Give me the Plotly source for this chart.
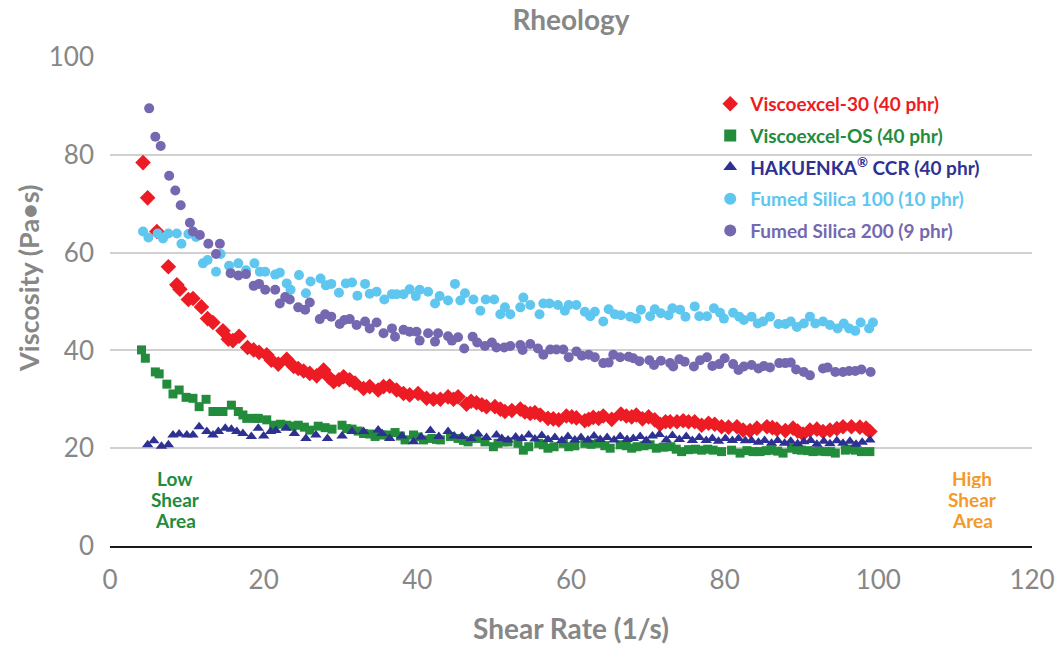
import plotly.graph_objects as go

# ---------------- data ----------------
red_x = [4.3, 4.9, 6.1, 7.6, 8.7, 9.1, 10.2, 10.8, 11.9, 12.7, 13.4, 14.7, 15.4, 16.0, 16.8, 17.9, 18.7, 19.4,
         20.4, 21.0, 21.9, 23.0, 23.9, 24.5, 25.2, 26.0, 26.9, 27.8, 28.5, 29.1, 29.8, 30.4, 31.2, 31.9, 33.0,
         33.8, 34.9, 35.6, 36.4, 37.3, 38.2, 39.0, 40.1, 41.2, 42.1, 43.0, 44.0, 44.7, 45.3, 46.4, 47.0, 47.7,
         48.4, 49.0, 50.1, 50.8, 51.4, 52.3, 53.4, 54.0, 54.7, 55.3, 56.0, 57.0, 57.7, 58.4, 59.4, 60.1, 60.7,
         61.8, 62.3, 62.9, 63.6, 64.2, 65.3, 66.5, 67.2, 67.9, 68.5, 69.3, 70.1, 70.9, 71.6, 72.3, 72.9, 73.8,
         74.6, 75.3, 76.1, 77.0, 77.9, 78.7, 79.6, 80.5, 81.6, 82.4, 83.3, 84.2, 85.5, 86.2, 86.8, 87.9, 88.9,
         89.5, 90.2, 91.1, 92.0, 92.8, 93.7, 94.6, 95.4, 96.5, 97.6, 98.4, 98.9]
red_y = [78.4, 71.2, 64.3, 57.1, 53.4, 52.5, 50.4, 50.6, 48.9, 46.5, 45.7, 44.0, 42.3, 42.0, 42.9, 40.6, 40.1, 39.6,
         39.1, 38.0, 37.2, 38.2, 36.7, 36.3, 35.8, 35.3, 34.8, 36.0, 34.5, 33.6, 34.0, 34.6, 34.0, 33.3, 32.2,
         32.6, 31.9, 32.6, 32.7, 31.9, 31.2, 30.9, 31.2, 30.2, 30.0, 30.0, 30.5, 30.0, 30.5, 29.0, 29.6, 29.3,
         28.9, 28.5, 28.5, 28.0, 27.5, 27.7, 28.0, 27.4, 27.1, 27.3, 26.8, 26.1, 26.0, 25.8, 26.6, 26.4, 26.2,
         25.6, 25.9, 26.3, 26.1, 26.6, 25.9, 27.0, 26.6, 26.4, 26.8, 26.0, 26.4, 25.8, 24.9, 25.4, 25.4, 25.4,
         25.6, 25.4, 25.4, 24.7, 25.1, 24.9, 24.4, 24.3, 24.4, 23.7, 23.6, 24.1, 24.4, 24.2, 23.9, 23.6, 24.1,
         23.5, 22.9, 23.7, 23.9, 23.4, 23.7, 24.0, 24.4, 24.4, 24.3, 24.1, 23.4]

green_x = [4.1, 4.6, 5.9, 6.4, 7.4, 8.2, 9.0, 9.9, 10.8, 11.6, 12.5, 13.4, 14.0, 14.7, 15.8, 16.7, 17.3, 17.8,
           18.9, 19.3, 20.4, 21.3, 22.2, 23.0, 23.7, 24.5, 25.3, 26.0, 27.1, 28.0, 28.9, 30.2, 30.8, 31.5,
           32.3, 33.0, 33.8, 34.5, 35.4, 36.2, 37.1, 37.8, 38.4, 39.5, 40.1, 40.8, 41.9, 42.5, 43.0, 44.3,
           45.3, 46.0, 46.6, 47.7, 48.8, 49.9, 50.5, 51.2, 51.8, 53.1, 53.8, 54.5, 55.8, 56.4, 57.0, 57.8,
           59.0, 59.7, 60.5, 61.8, 62.6, 63.6, 64.4, 65.1, 66.4, 67.2, 67.9, 68.6, 69.5, 70.3, 71.1, 72.0,
           73.0, 73.7, 74.4, 75.3, 76.2, 77.0, 77.8, 78.5, 79.6, 80.9, 82.0, 82.9, 83.7, 84.6, 85.4, 86.1,
           86.9, 87.6, 88.7, 89.4, 90.0, 90.8, 91.5, 92.3, 93.1, 93.8, 94.4, 95.7, 96.3, 97.0, 97.8, 98.9]
green_y = [40.1, 38.4, 35.6, 35.2, 33.1, 31.1, 31.9, 30.4, 30.2, 28.5, 30.0, 27.5, 27.5, 27.5, 28.8, 27.5, 26.8, 26.1,
           26.1, 26.1, 25.8, 24.7, 24.9, 24.7, 24.5, 24.7, 24.3, 23.7, 24.5, 24.2, 23.9, 24.7, 24.0, 23.9,
           23.5, 23.0, 22.9, 22.4, 22.7, 22.7, 23.2, 22.5, 21.7, 22.7, 22.3, 21.7, 22.0, 21.8, 21.7, 22.4,
           22.0, 21.6, 21.3, 22.0, 21.3, 20.3, 21.0, 21.3, 21.3, 21.0, 19.6, 20.3, 21.0, 20.7, 20.0, 20.3,
           21.0, 20.3, 20.5, 21.0, 20.8, 21.0, 20.5, 20.0, 20.7, 20.5, 20.0, 20.3, 20.5, 20.7, 20.0, 20.2,
           20.3, 19.8, 19.3, 19.7, 19.8, 19.6, 19.8, 19.6, 19.3, 19.6, 19.0, 19.5, 19.3, 19.3, 19.5, 19.6,
           19.4, 19.0, 20.0, 19.7, 19.6, 19.5, 19.3, 19.4, 19.3, 19.3, 19.0, 19.6, 19.8, 19.6, 19.3, 19.3]

blue_x = [4.9, 5.7, 6.7, 7.6, 8.2, 9.0, 10.0, 10.8, 11.6, 12.6, 13.4, 14.1, 15.0, 15.8, 16.5, 17.3, 18.4, 19.3,
          20.0, 20.9, 21.6, 22.9, 24.0, 25.5, 26.8, 28.3, 30.2, 31.5, 33.0, 34.9, 35.4, 36.4, 38.0, 39.5,
          40.5, 41.7, 42.8, 44.0, 44.8, 45.8, 47.0, 47.9, 49.0, 50.3, 51.0, 51.8, 52.8, 53.6, 54.5, 55.3,
          56.2, 57.0, 57.9, 58.8, 59.6, 60.5, 61.3, 62.2, 63.0, 63.8, 64.7, 65.6, 66.4, 67.3, 68.1, 69.0,
          69.8, 70.6, 71.5, 72.4, 73.2, 74.1, 75.0, 75.8, 76.7, 77.6, 78.4, 79.2, 80.1, 81.0, 81.8, 82.7,
          83.5, 84.4, 85.2, 86.1, 86.9, 87.8, 88.6, 89.5, 90.3, 91.2, 92.0, 92.9, 93.7, 94.6, 95.4, 96.3,
          97.1, 97.9, 98.9]
blue_y = [20.7, 21.5, 20.4, 20.7, 22.7, 22.9, 22.7, 22.7, 24.4, 23.4, 22.7, 23.4, 24.1, 23.9, 23.4, 23.0, 22.4, 24.1,
          22.5, 23.4, 23.6, 24.1, 23.0, 22.0, 22.7, 22.0, 22.5, 23.4, 23.4, 23.7, 23.0, 22.0, 22.5, 21.3,
          22.3, 23.6, 22.4, 23.4, 22.5, 22.4, 22.0, 22.9, 22.2, 22.7, 22.0, 21.7, 22.3, 22.0, 22.7, 21.9,
          22.6, 21.8, 22.2, 21.6, 22.4, 21.7, 22.2, 21.7, 22.5, 21.8, 22.2, 21.7, 22.4, 21.8, 22.0, 22.4,
          21.6, 22.5, 22.8, 21.7, 22.6, 21.8, 22.4, 21.6, 22.2, 21.6, 22.0, 21.4, 22.0, 21.6, 22.0, 21.5,
          21.6, 21.2, 21.6, 21.0, 21.6, 21.0, 21.4, 20.9, 21.3, 21.6, 20.8, 21.4, 20.9, 21.5, 21.0, 21.4,
          20.8, 21.2, 21.7]

lblue_x = [4.3, 5.0, 6.2, 6.9, 7.6, 8.7, 9.3, 10.2, 11.2, 12.1, 12.7, 13.8, 14.4, 15.5, 16.7, 17.7, 18.8, 19.5,
           20.2, 21.5, 22.1, 23.0, 23.5, 24.6, 25.5, 26.1, 27.4, 28.1, 28.8, 29.8, 30.7, 31.5, 32.2, 33.2,
           33.8, 34.7, 35.7, 36.7, 37.3, 38.2, 39.0, 39.8, 40.3, 41.4, 42.3, 42.9, 44.0, 44.9, 45.6, 46.2,
           47.3, 48.2, 48.9, 50.0, 50.8, 51.4, 52.1, 53.4, 53.8, 54.7, 55.9, 56.4, 57.2, 58.3, 59.2, 59.7,
           60.7, 61.8, 62.5, 63.1, 64.2, 64.9, 65.7, 66.5, 67.7, 68.5, 69.1, 70.3, 70.9, 71.7, 72.7, 73.2,
           74.2, 74.9, 76.1, 76.7, 77.7, 78.6, 79.4, 79.9, 81.1, 81.9, 82.5, 83.5, 84.3, 85.0, 85.9, 87.0,
           87.9, 88.6, 89.4, 90.3, 91.1, 91.8, 92.8, 93.7, 94.7, 95.5, 96.2, 97.0, 97.7, 98.8, 99.3]
lblue_y = [64.3, 63.1, 63.9, 62.9, 63.9, 63.9, 61.8, 63.8, 63.2, 57.8, 58.5, 56.1, 59.7, 57.3, 57.8, 56.4, 57.8, 56.1,
           56.1, 55.5, 55.9, 53.7, 52.4, 55.4, 51.7, 54.1, 54.7, 53.3, 53.6, 51.8, 53.7, 53.9, 51.2, 53.6,
           51.6, 52.0, 50.4, 51.5, 51.5, 51.5, 52.5, 51.1, 52.4, 52.0, 49.6, 51.1, 50.2, 53.6, 50.2, 51.7,
           50.4, 48.1, 50.4, 50.4, 47.4, 48.8, 47.4, 48.8, 50.8, 49.3, 47.4, 49.6, 49.6, 49.3, 48.1, 49.3,
           49.3, 47.9, 47.0, 47.9, 45.9, 48.4, 47.4, 47.2, 46.9, 46.5, 48.3, 47.0, 48.4, 47.6, 47.2, 48.6,
           48.3, 46.9, 49.0, 47.0, 47.0, 48.6, 47.7, 46.5, 47.7, 46.9, 46.2, 46.9, 45.5, 45.9, 46.9, 45.4,
           45.4, 45.9, 44.8, 45.5, 46.9, 45.5, 45.9, 45.2, 44.5, 45.5, 44.5, 44.0, 45.7, 44.5, 45.7]

purple_x = [5.1, 5.9, 6.6, 7.7, 8.5, 9.2, 10.4, 10.8, 11.7, 12.8, 13.8, 14.3, 15.7, 16.7, 17.7, 18.7, 19.4,
            20.2, 21.5, 22.1, 22.8, 23.4, 24.5, 25.4, 26.0, 27.3, 28.0, 28.8, 29.9, 30.5, 31.2, 32.1, 33.2,
            33.8, 34.7, 35.6, 36.7, 37.1, 38.2, 39.0, 39.9, 40.3, 41.4, 42.3, 42.7, 44.0, 44.5, 45.3, 46.1,
            47.2, 47.8, 48.8, 49.7, 50.3, 51.3, 52.1, 53.4, 53.7, 54.7, 55.7, 56.4, 57.3, 58.1, 59.0, 59.7,
            60.7, 61.4, 62.3, 63.1, 64.2, 64.9, 65.5, 66.4, 67.5, 68.1, 68.9, 70.2, 70.8, 71.7, 72.9, 73.3,
            74.1, 74.8, 76.0, 76.8, 77.7, 78.4, 79.3, 80.0, 81.1, 81.8, 82.5, 83.5, 84.4, 85.1, 85.9, 87.1,
            87.9, 88.6, 89.3, 90.3, 91.1, 92.8, 93.4, 94.4, 95.4, 96.2, 97.0, 97.8, 99.0]
purple_y = [89.5, 83.7, 81.8, 75.7, 72.7, 69.7, 66.1, 64.3, 63.6, 61.8, 59.7, 61.8, 55.8, 55.3, 55.6, 53.2, 53.6,
            52.4, 52.4, 49.6, 50.9, 50.4, 48.8, 48.3, 49.8, 46.4, 47.4, 46.9, 45.4, 46.2, 46.4, 45.2, 45.9,
            44.5, 45.7, 43.5, 44.5, 42.8, 44.2, 43.8, 43.8, 42.0, 43.5, 41.8, 43.5, 42.9, 42.0, 42.7, 40.4,
            42.8, 41.6, 40.9, 41.6, 40.6, 40.6, 40.9, 41.1, 40.1, 41.3, 40.4, 39.1, 40.2, 40.2, 40.2, 38.6,
            39.8, 38.9, 39.1, 38.6, 37.4, 37.5, 39.1, 38.6, 38.7, 38.4, 37.8, 38.0, 37.0, 37.9, 37.4, 36.7,
            38.2, 37.7, 36.7, 38.0, 38.6, 36.8, 37.2, 38.4, 37.2, 36.0, 36.7, 37.0, 36.3, 36.8, 36.5, 37.4,
            37.4, 37.5, 36.1, 35.6, 34.9, 36.3, 36.5, 35.6, 35.6, 35.8, 35.8, 36.1, 35.6]

x_ticks = [0, 20, 40, 60, 80, 100, 120]
y_ticks = [0, 20, 40, 60, 80, 100]

# annotation text lines and their positions (data coords)
low_lines = ["Low", "Shear", "Area"]
high_lines = ["High", "Shear", "Area"]
note_y = [13.9, 9.6, 5.3]
low_x = 8.5
high_x = 112.2

# ---------------- style ----------------
FONT = "Lato, 'Open Sans', sans-serif"
GREY = "#878787"
RED = "#ED1C24"
GREEN = "#238B3C"
NAVY = "#2E3192"
LBLUE = "#5EC6EF"
PURPLE = "#7568B0"
ORANGE = "#F39A2B"

series = [
    (red_x, red_y, "Viscoexcel-30 (40 phr)", RED, "diamond", 12),
    (green_x, green_y, "Viscoexcel-OS (40 phr)", GREEN, "square", 9),
    (blue_x, blue_y, "HAKUENKA<sup>®</sup> CCR (40 phr)", NAVY, "triangle-up", 10),
    (lblue_x, lblue_y, "Fumed Silica 100 (10 phr)", LBLUE, "circle", 10),
    (purple_x, purple_y, "Fumed Silica 200 (9 phr)", PURPLE, "circle", 10),
]

fig = go.Figure()
for i, (xs, ys, name, col, sym, sz) in enumerate(series):
    fig.add_trace(go.Scatter(
        x=xs, y=ys, mode="markers",
        name=f"<b><span style='color:{col}'>{name}</span></b>",
        legendgroup=f"g{i}",
        marker=dict(color=col, symbol=sym, size=sz, line=dict(width=0)),
        cliponaxis=False,
    ))

for txt, yy in zip(low_lines, note_y):
    fig.add_annotation(x=low_x, y=yy, xref="x", yref="y", showarrow=False,
                       text=f"<b>{txt}</b>", height=20,
                       font=dict(family=FONT, size=19, color=GREEN))
for txt, yy in zip(high_lines, note_y):
    fig.add_annotation(x=high_x, y=yy, xref="x", yref="y", showarrow=False,
                       text=f"<b>{txt}</b>", height=20,
                       font=dict(family=FONT, size=19, color=ORANGE))

# y-axis title placed as a rotated annotation in the left margin
fig.add_annotation(x=-0.089, y=0.548, xref="paper", yref="paper", showarrow=False,
                   text="<b>Viscosity (Pa•s)</b>", textangle=-90,
                   xanchor="center", yanchor="middle",
                   font=dict(family=FONT, size=27, color=GREY))

fig.update_layout(
    width=1063, height=645,
    margin=dict(l=110, r=31, t=57, b=99),
    paper_bgcolor="white", plot_bgcolor="white",
    font=dict(family=FONT, color=GREY),
    title=dict(text="<b>Rheology</b>", x=0.5, xref="paper", xanchor="center",
               y=0.968, yanchor="middle",
               font=dict(family=FONT, size=28, color=GREY)),
    showlegend=True,
    legend=dict(x=0.651, y=0.943, xanchor="left", yanchor="top",
                bgcolor="rgba(0,0,0,0)", traceorder="grouped",
                tracegroupgap=4, itemsizing="constant",
                font=dict(family=FONT, size=19)),
    xaxis=dict(range=[0, 120], tickvals=x_ticks, showgrid=False, zeroline=False,
               showline=True, linecolor="#1a1a1a", linewidth=2, ticks="",
               ticklabelstandoff=10, automargin=False,
               tickfont=dict(family=FONT, size=26, color=GREY),
               title=dict(text="<b>Shear Rate (1/s)</b>", standoff=26,
                          font=dict(family=FONT, size=28, color=GREY))),
    yaxis=dict(range=[0, 100], tickvals=y_ticks, showgrid=True, gridcolor="#d0d0d0",
               gridwidth=1.5, zeroline=False, automargin=False,
               showline=False, ticks="", ticklabelstandoff=15,
               tickfont=dict(family=FONT, size=26, color=GREY)),
)

fig.write_html("out.html")
